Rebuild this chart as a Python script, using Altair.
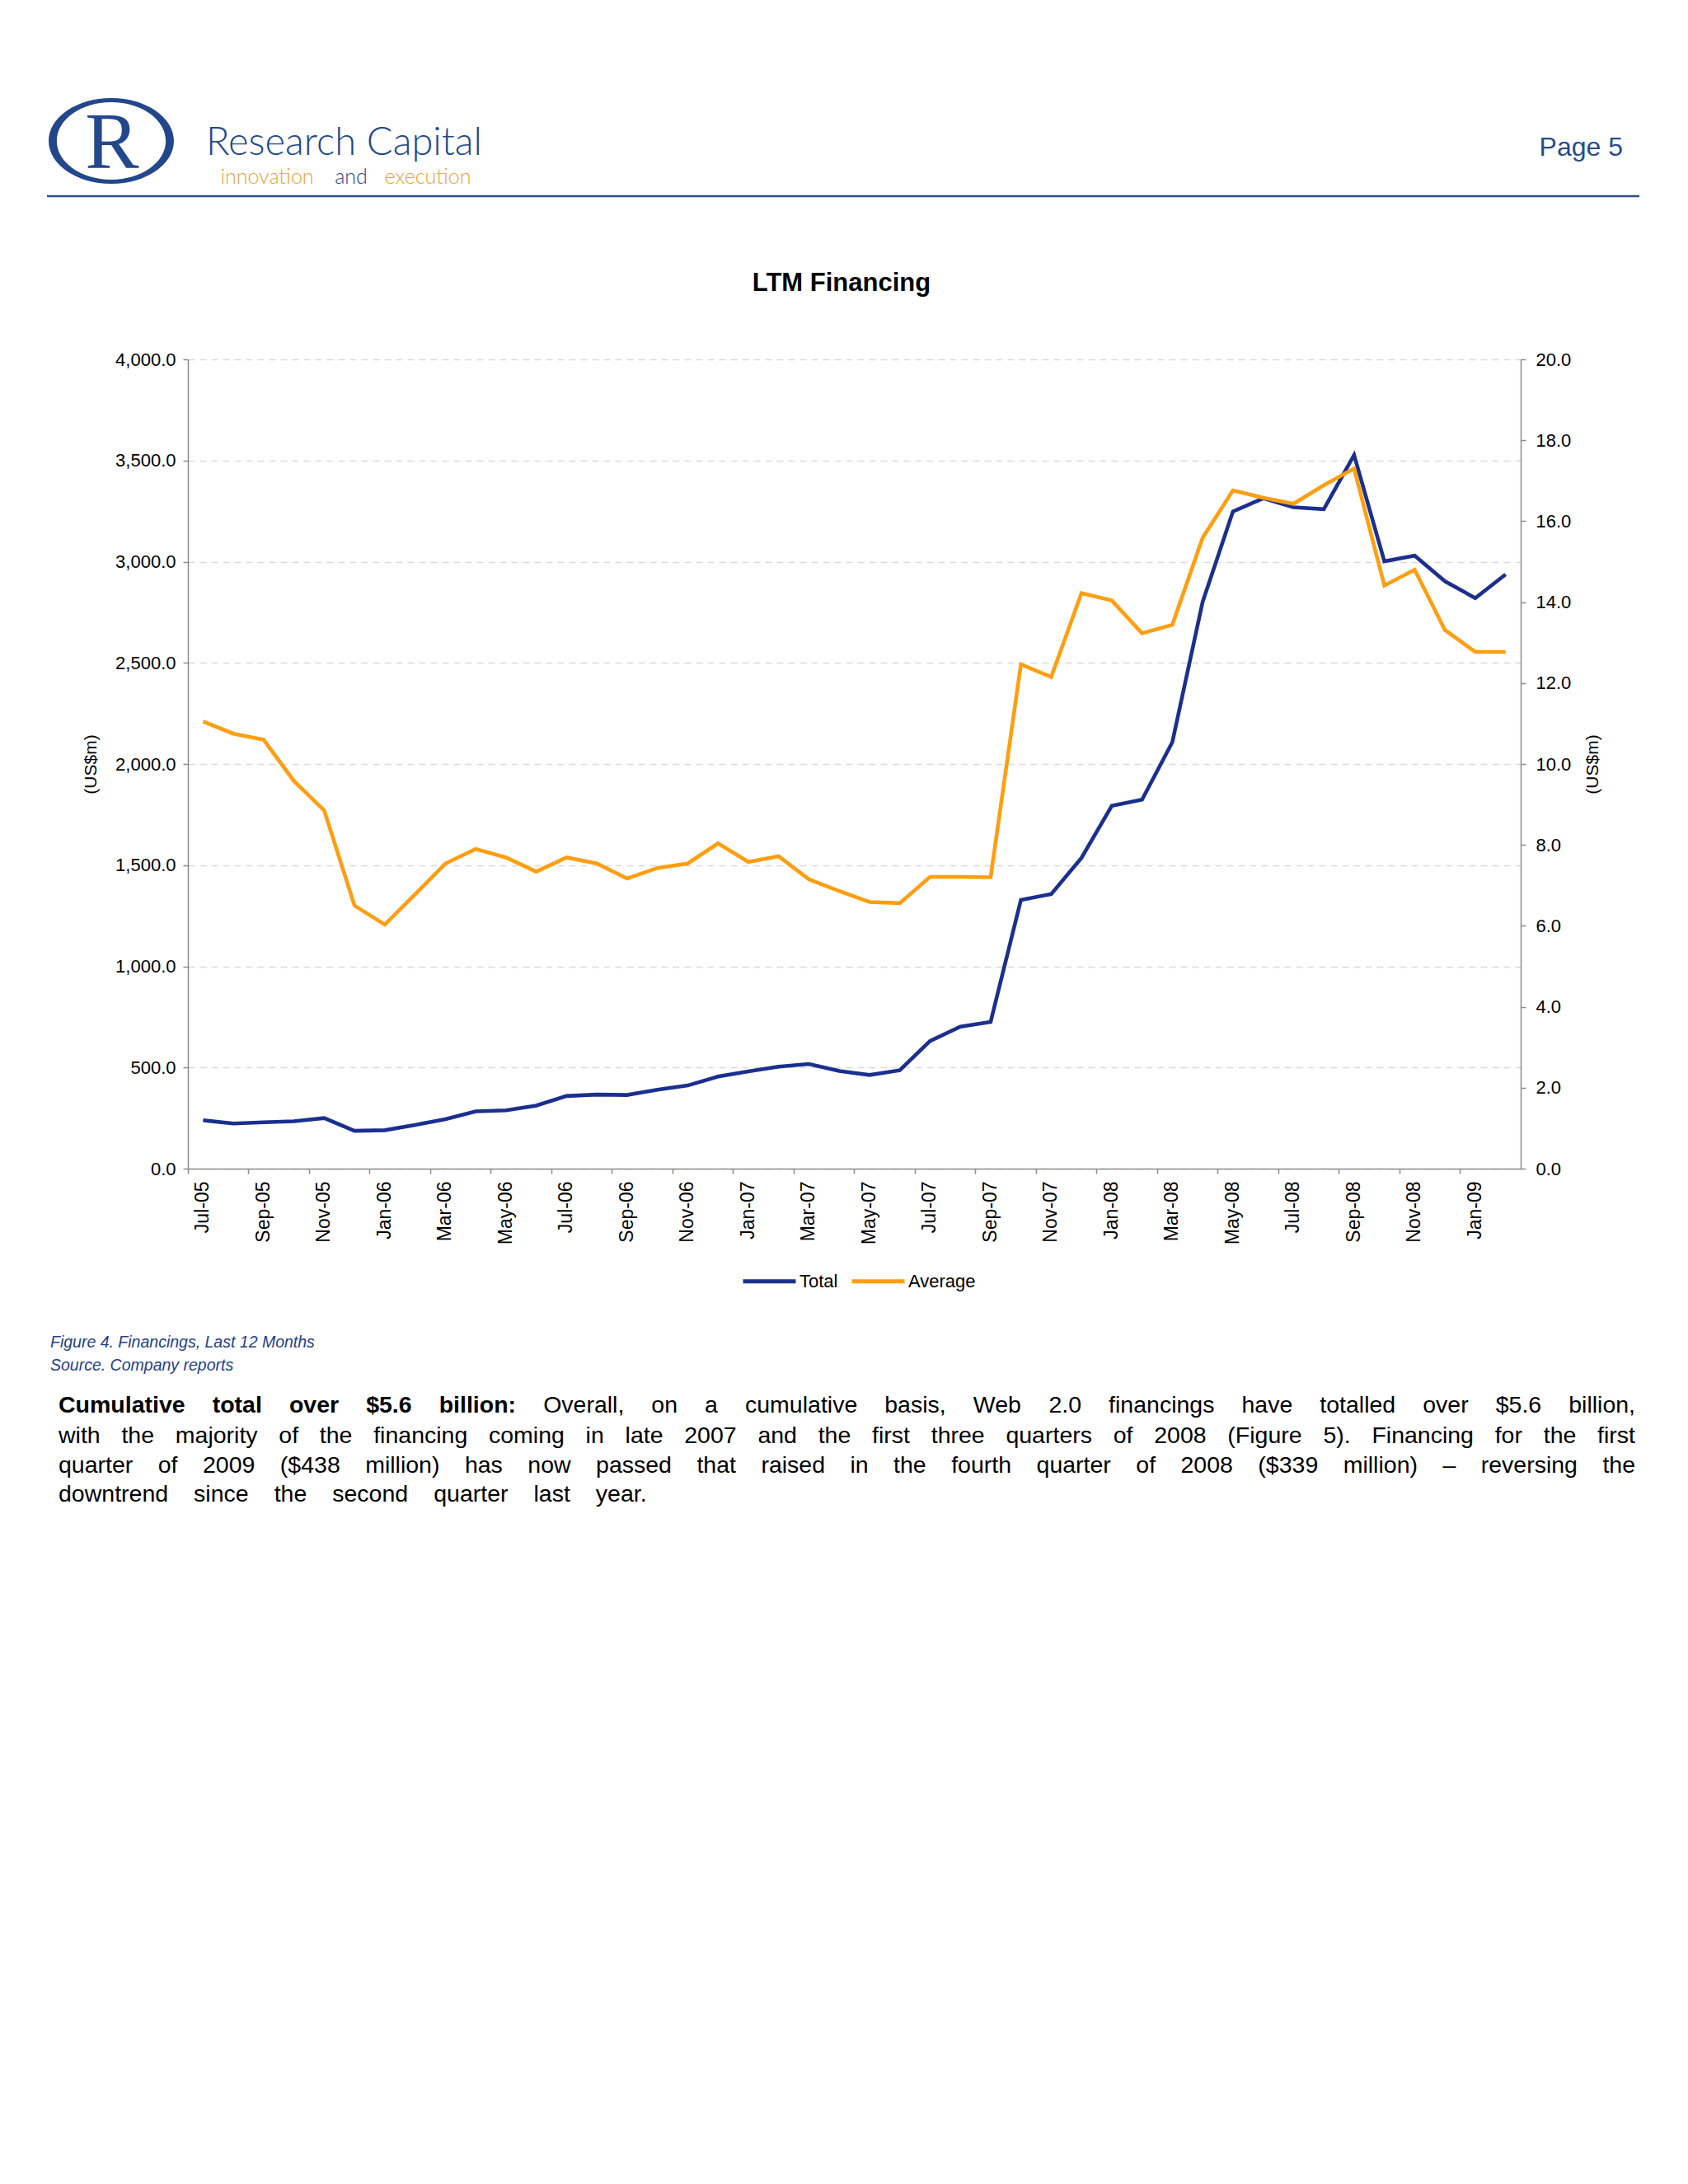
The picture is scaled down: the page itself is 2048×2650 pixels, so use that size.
import altair as alt
import pandas as pd

# ---------------- data ----------------
months = ["Jul-05", "Aug-05", "Sep-05", "Oct-05", "Nov-05", "Dec-05",
          "Jan-06", "Feb-06", "Mar-06", "Apr-06", "May-06", "Jun-06",
          "Jul-06", "Aug-06", "Sep-06", "Oct-06", "Nov-06", "Dec-06",
          "Jan-07", "Feb-07", "Mar-07", "Apr-07", "May-07", "Jun-07",
          "Jul-07", "Aug-07", "Sep-07", "Oct-07", "Nov-07", "Dec-07",
          "Jan-08", "Feb-08", "Mar-08", "Apr-08", "May-08", "Jun-08",
          "Jul-08", "Aug-08", "Sep-08", "Oct-08", "Nov-08", "Dec-08",
          "Jan-09", "Feb-09"]
total = [239, 223, 229, 234, 250, 187,
         190, 216, 244, 283, 288, 312,
         359, 366, 364, 390, 411, 455,
         481, 504, 517, 483, 463, 486,
         631, 702, 725, 1328, 1357, 1536,
         1793, 1824, 2108, 2801, 3248, 3313,
         3269, 3259, 3527, 3002, 3030, 2903,
         2820, 2937]
average = [11.05, 10.75, 10.60, 9.58, 8.85, 6.50,
           6.03, 6.78, 7.54, 7.90, 7.69, 7.34,
           7.69, 7.54, 7.17, 7.43, 7.54, 8.04,
           7.58, 7.72, 7.15, 6.86, 6.59, 6.56,
           7.21, 7.21, 7.20, 12.46, 12.15, 14.22,
           14.04, 13.23, 13.44, 15.59, 16.76, 16.58,
           16.43, 16.89, 17.30, 14.41, 14.80, 13.31,
           12.77, 12.77]
series_names = ["Total", "Average"]
left_ticks = [0, 500, 1000, 1500, 2000, 2500, 3000, 3500, 4000]
right_ticks = [0, 2, 4, 6, 8, 10, 12, 14, 16, 18, 20]
x_label_months = months[::2]

chart_title = "LTM Financing"
axis_title = "(US$m)"
caption_lines = ["Figure 4. Financings, Last 12 Months", "Source. Company reports"]
para_lines = [
    "Cumulative total over $5.6 billion: Overall, on a cumulative basis, Web 2.0 financings have totalled over $5.6 billion,",
    "with the majority of the financing coming in late 2007 and the first three quarters of 2008 (Figure 5). Financing for the first",
    "quarter of 2009 ($438 million) has now passed that raised in the fourth quarter of 2008 ($339 million) \u2013 reversing the",
    "downtrend since the second quarter last year.",
]
bold_lead_words = 5

# ---------------- styles ----------------
W, H = 1617, 982
FONT = "Liberation Sans"
NAVY_LINE = "#1B2F8E"
ORANGE_LINE = "#FF9E0F"
BRAND_NAVY = "#22478C"
BRAND_ORANGE = "#E9A13B"
AXIS_GRAY = "#8C8C8C"

df = pd.DataFrame({
    "month": months * 2,
    "series": ["Total"] * len(months) + ["Average"] * len(months),
    "value": total + average,
})

color = alt.Color(
    "series:N",
    scale=alt.Scale(domain=series_names, range=[NAVY_LINE, ORANGE_LINE]),
    legend=alt.Legend(
        title=None, orient="none", legendX=671, legendY=1084,
        direction="horizontal", symbolType="stroke", symbolSize=4096,
        symbolStrokeWidth=5, labelFont=FONT, labelFontSize=22,
        labelColor="#000", labelOffset=2, columnPadding=6,
    ),
)

x_scale = alt.Scale(type="band", paddingInner=0, paddingOuter=0)
x_axis = alt.X(
    "month:O", sort=months, scale=x_scale, bandPosition=0.5, title=None,
    axis=alt.Axis(
        values=x_label_months, bandPosition=0, labelAngle=270,
        labelFont=FONT, labelFontSize=23, labelColor="#000", labelPadding=9,
        tickSize=6, tickColor=AXIS_GRAY, tickWidth=1.5,
        domainColor=AXIS_GRAY, domainWidth=1.5, grid=False, labelOverlap=False,
    ),
)
x_plain = alt.X("month:O", sort=months, scale=x_scale, bandPosition=0.5, axis=None)

y_left = alt.Y(
    "value:Q", scale=alt.Scale(domain=[0, 4000], nice=False),
    axis=alt.Axis(
        orient="left", values=left_ticks, format=",.1f", title=axis_title,
        titleFont=FONT, titleFontSize=21, titleFontWeight="normal", titleColor="#000",
        titlePadding=19, labelFont=FONT, labelFontSize=22, labelColor="#000",
        labelPadding=9, tickSize=6, tickColor=AXIS_GRAY, tickWidth=1.5,
        domainColor=AXIS_GRAY, domainWidth=1.5,
        grid=True, gridColor="#D9D9D9", gridDash=[8, 6], gridWidth=1.3,
    ),
)
y_right = alt.Y(
    "value:Q", scale=alt.Scale(domain=[0, 20], nice=False),
    axis=alt.Axis(
        orient="right", values=right_ticks, format=".1f", title=axis_title,
        titleAngle=270, titleFont=FONT, titleFontSize=21, titleFontWeight="normal",
        titleColor="#000", titlePadding=37, labelFont=FONT, labelFontSize=22,
        labelColor="#000", labelPadding=12, tickSize=6, tickColor=AXIS_GRAY,
        tickWidth=1.5, domainColor=AXIS_GRAY, domainWidth=1.5, grid=False,
    ),
)

line_total = alt.Chart(df).transform_filter("datum.series === 'Total'").mark_line(
    strokeWidth=4.6).encode(x=x_axis, y=y_left, color=color)
line_avg = alt.Chart(df).transform_filter("datum.series === 'Average'").mark_line(
    strokeWidth=4.6).encode(x=x_plain, y=y_right, color=color)

one = pd.DataFrame({"k": [0]})


def txt(text, x, y, size, weight="normal", style="normal", color="#000",
        font=FONT, align="left", baseline="alphabetic"):
    return alt.Chart(pd.DataFrame({"t": [text]})).mark_text(
        align=align, baseline=baseline, font=font, fontSize=size,
        fontWeight=weight, fontStyle=style, color=color,
    ).encode(x=alt.value(x), y=alt.value(y), text="t:N")


# ---------------- header ----------------
logo_path = ("M-1,0A1,0.684,0,1,1,1,0A1,0.684,0,1,1,-1,0Z "
             "M-0.87,0A0.87,0.618,0,1,0,0.87,0A0.87,0.618,0,1,0,-0.87,0Z")
logo_ring = alt.Chart(one).mark_point(
    shape=logo_path, size=23104, filled=True, color=BRAND_NAVY, opacity=1,
    strokeWidth=0,
).encode(x=alt.value(-93), y=alt.value(-265))
logo_r = txt("R", -92, -232, 98, font="Liberation Serif", color=BRAND_NAVY,
             align="center")

brand = txt("Research Capital", 22, -248, 47, weight=300, font="Lato", color=BRAND_NAVY)
tag1 = txt("innovation", 96, -213, 25, weight=300, font="Lato", color=BRAND_ORANGE, align="center")
tag2 = txt("and", 198, -213, 25, weight=300, font="Lato", color=BRAND_NAVY, align="center")
tag3 = txt("execution", 291, -213, 25, weight=300, font="Lato", color=BRAND_ORANGE, align="center")
page_no = txt("Page 5", 1741, -247, 32, color="#284B8C", align="right")
header_rule = alt.Chart(one).mark_rule(color="#2F4E8C", strokeWidth=2.5).encode(
    x=alt.value(-171), x2=alt.value(1761), y=alt.value(-198))

title = txt(chart_title, 793, -83, 31, weight="bold", align="center")

cap1 = txt(caption_lines[0], -167, 1199, 19.5, style="italic", color="#23408A")
cap2 = txt(caption_lines[1], -167, 1227, 19.5, style="italic", color="#23408A")

# ---------------- paragraph (justified, word by word) ----------------
REG = {' ': 278, '$': 556, '(': 333, ')': 333, ',': 278, '-': 333, '.': 278,
       ':': 278, '\u2013': 556, 'C': 722, 'F': 611, 'O': 778, 'W': 944,
       'a': 556, 'b': 556, 'c': 500, 'd': 556, 'e': 556, 'f': 278, 'g': 556,
       'h': 556, 'i': 222, 'j': 222, 'k': 500, 'l': 222, 'm': 833, 'n': 556,
       'o': 556, 'p': 556, 'q': 556, 'r': 333, 's': 500, 't': 278, 'u': 556,
       'v': 500, 'w': 722, 'x': 500, 'y': 500, 'z': 500}
BOLD = {'C': 722, 'u': 611, 'm': 889, 'l': 278, 'a': 556, 't': 333, 'i': 278,
        'v': 556, 'e': 556, 'o': 611, 'r': 389, '$': 556, '.': 278, 'b': 611,
        'n': 611, ':': 333, ' ': 278}


def cw(c, bold):
    if c.isdigit():
        return 556
    if bold and c in BOLD:
        return BOLD[c]
    return REG.get(c, 556)


PFS = 28.5
PX0 = -157
PWIDTH = 1913
PBASE = [1278, 1315, 1351, 1386]
LAST_LS = 3.15

rows = []
for li, line in enumerate(para_lines):
    words = line.split(" ")
    flags = [(li == 0 and wi < bold_lead_words) for wi in range(len(words))]
    widths = [sum(cw(c, b) for c in w) / 1000 * PFS for w, b in zip(words, flags)]
    if li < len(para_lines) - 1:
        target = PWIDTH
    else:
        natural = sum(widths) + (len(words) - 1) * 278 / 1000 * PFS
        target = natural + LAST_LS * (len(line) - 1)
    gap = (target - sum(widths)) / (len(words) - 1)
    x = PX0
    for w, b, wd in zip(words, flags, widths):
        rows.append({"word": w, "wx": x, "wy": PBASE[li], "bold": b})
        x += wd + gap
words_df = pd.DataFrame(rows)

wx = alt.X("wx:Q", scale=alt.Scale(domain=[0, W], nice=False, zero=False), axis=None)
wy = alt.Y("wy:Q", scale=alt.Scale(domain=[0, H], nice=False, zero=False, reverse=True), axis=None)

para_reg = alt.Chart(words_df).transform_filter("!datum.bold").mark_text(
    align="left", baseline="alphabetic", font=FONT, fontSize=PFS, color="#000",
).encode(x=wx, y=wy, text="word:N")
para_bold = alt.Chart(words_df).transform_filter("datum.bold").mark_text(
    align="left", baseline="alphabetic", font=FONT, fontSize=PFS, color="#000",
    fontWeight="bold",
).encode(x=wx, y=wy, text="word:N")

chart = alt.layer(
    line_total, line_avg,
    logo_ring, logo_r, brand, tag1, tag2, tag3, page_no, header_rule,
    title, cap1, cap2, para_reg, para_bold,
).resolve_scale(
    x="independent", y="independent"
).properties(
    width=W, height=H,
    padding={"left": 220, "top": 428, "right": 180, "bottom": 1180},
    autosize=alt.AutoSizeParams(type="none"),
    background="white",
).configure_view(stroke=None)

chart.save("out.html", embed_options={"renderer": "svg", "actions": False})
